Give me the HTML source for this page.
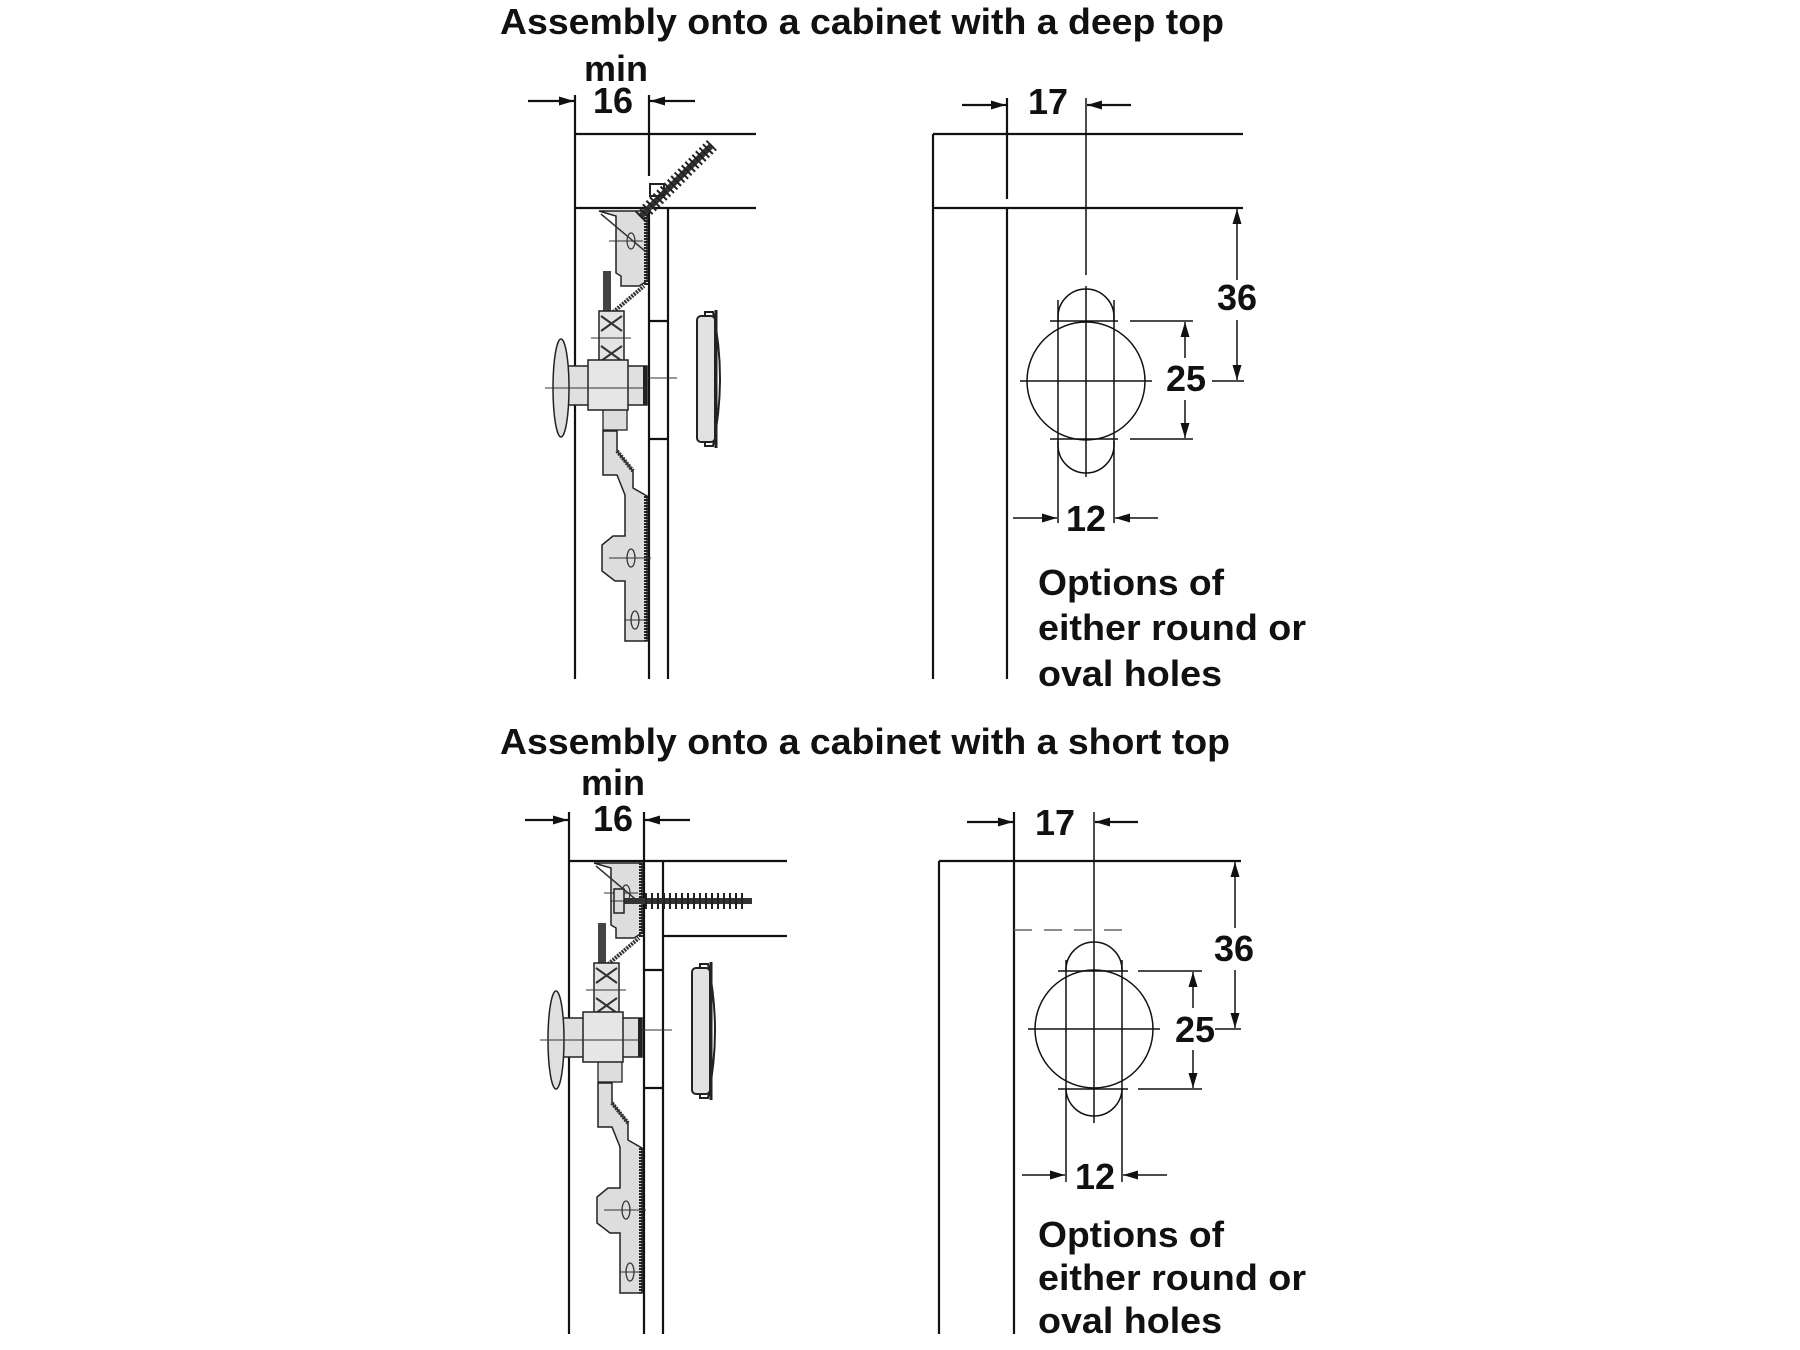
<!DOCTYPE html>
<html><head><meta charset="utf-8"><style>
html,body{margin:0;padding:0;background:#fff;}
svg{display:block;}
text{font-family:"Liberation Sans",Arial,sans-serif;font-weight:bold;fill:#111;}
</style></head><body>
<svg width="1800" height="1350" viewBox="0 0 1800 1350" xmlns="http://www.w3.org/2000/svg">
<defs>
<marker id="a" markerUnits="userSpaceOnUse" markerWidth="16" markerHeight="10" refX="15" refY="4.5" orient="auto">
<path d="M0,0 L15,4.5 L0,9 z" fill="#111"/>
</marker>
<g id="hw">
  <!-- upper bracket -->
  <polygon points="-50,-175 -2,-175 -2,-105 -10,-100 -28,-100 -28,-110 -33,-113 -33,-170" fill="#ddd" stroke="#222" stroke-width="1.5"/>
  <line x1="-48" y1="-172" x2="-4" y2="-135" stroke="#333" stroke-width="1.5"/>
  <line x1="-40" y1="-145" x2="-6" y2="-145" stroke="#333" stroke-width="1"/>
  <ellipse cx="-18" cy="-145" rx="4" ry="8" fill="none" stroke="#333" stroke-width="1.2"/>
  <line x1="-3" y1="-175" x2="-3" y2="-100" stroke="#222" stroke-width="4" stroke-dasharray="2 1"/>
  <!-- diagonal -->
  <line x1="-38" y1="-72" x2="-5" y2="-100" stroke="#333" stroke-width="4" stroke-dasharray="2 1"/>
  <!-- lever -->
  <rect x="-46" y="-115" width="8" height="45" fill="#444"/>
  <!-- blocks -->
  <rect x="-50" y="-75" width="25" height="55" fill="#e4e4e4" stroke="#222" stroke-width="1.5"/>
  <path d="M-48,-70 L-27,-55 M-48,-55 L-27,-70 M-48,-40 L-27,-25 M-48,-25 L-27,-40" stroke="#333" stroke-width="2"/>
  <line x1="-58" y1="-48" x2="-18" y2="-48" stroke="#333" stroke-width="1"/>
  <!-- lower zigzag plate -->
  <polygon points="-46,45 -32,45 -32,65 -16,85 -16,102 -2,110 -2,255 -24,255 -24,195 -34,195 -47,185 -47,159 -36,150 -24,150 -24,109 -32,89 -46,89" fill="#ddd" stroke="#222" stroke-width="1.5"/>
  <line x1="-3" y1="110" x2="-3" y2="255" stroke="#222" stroke-width="4" stroke-dasharray="2 1"/>
  <line x1="-32" y1="65" x2="-16" y2="85" stroke="#333" stroke-width="4" stroke-dasharray="2 1"/>
  <ellipse cx="-18" cy="172" rx="4" ry="9" fill="none" stroke="#333" stroke-width="1.3"/>
  <line x1="-40" y1="172" x2="2" y2="172" stroke="#333" stroke-width="1"/>
  <ellipse cx="-14" cy="234" rx="4" ry="9" fill="none" stroke="#333" stroke-width="1.3"/>
  <line x1="-24" y1="234" x2="-4" y2="234" stroke="#333" stroke-width="1"/>
  <rect x="-46" y="22" width="24" height="22" fill="#ddd" stroke="#222" stroke-width="1.3"/>
  <!-- knob -->
  <rect x="-82" y="-20" width="80" height="39" fill="#e0e0e0" stroke="#222" stroke-width="1.5"/>
  <rect x="-61" y="-26" width="40" height="50" fill="#e6e6e6" stroke="#222" stroke-width="1.5"/>
  <rect x="-6" y="-20" width="4" height="39" fill="#222"/>
  <ellipse cx="-88" cy="2" rx="8" ry="49" fill="#e0e0e0" stroke="#222" stroke-width="1.5"/>
  <line x1="-104" y1="2" x2="-2" y2="2" stroke="#333" stroke-width="1"/>
  <line x1="-2" y1="-8" x2="28" y2="-8" stroke="#333" stroke-width="1"/>
  <!-- cap -->
  <path d="M56,-74 L64,-74 Q78,-8 64,60 L56,60 Z" fill="#fff" stroke="#222" stroke-width="2"/>
  <rect x="48" y="-70" width="18" height="126" rx="4" fill="#e2e2e2" stroke="#222" stroke-width="2"/>
  <line x1="67" y1="-76" x2="67" y2="62" stroke="#222" stroke-width="3"/>
</g>
</defs>

<g stroke="#111" stroke-width="2.2" fill="none">
<!-- ===== TOP LEFT ===== -->
<line x1="575" y1="95" x2="575" y2="679"/>
<line x1="649" y1="95" x2="649" y2="176"/>
<line x1="649" y1="208" x2="649" y2="679"/>
<line x1="668" y1="208" x2="668" y2="679"/>
<line x1="575" y1="134" x2="756" y2="134"/>
<line x1="575" y1="208" x2="756" y2="208"/>
<line x1="649" y1="321" x2="668" y2="321"/>
<line x1="649" y1="439" x2="668" y2="439"/>
<line x1="528" y1="101" x2="574" y2="101" marker-end="url(#a)"/>
<line x1="695" y1="101" x2="650" y2="101" marker-end="url(#a)"/>
</g>
<use href="#hw" transform="translate(649,386)"/>
<!-- top screw -->
<line x1="640" y1="217" x2="712" y2="145" stroke="#333" stroke-width="6"/>
<line x1="640" y1="217" x2="712" y2="145" stroke="#222" stroke-width="14" stroke-dasharray="2 3"/>
<rect x="650" y="184" width="14" height="12" fill="none" stroke="#222" stroke-width="2"/>

<g stroke="#111" stroke-width="2.2" fill="none">
<!-- ===== TOP RIGHT ===== -->
<line x1="933" y1="134" x2="933" y2="679"/>
<line x1="933" y1="134" x2="1243" y2="134"/>
<line x1="933" y1="208" x2="1243" y2="208"/>
<line x1="1007" y1="98" x2="1007" y2="199"/>
<line x1="1007" y1="208" x2="1007" y2="679"/>
<line x1="962" y1="105" x2="1006" y2="105" marker-end="url(#a)"/>
<line x1="1131" y1="105" x2="1087" y2="105" marker-end="url(#a)"/>
</g>
<g stroke="#111" stroke-width="1.5" fill="none">
<line x1="1086" y1="98" x2="1086" y2="275"/>
<line x1="1086" y1="286" x2="1086" y2="477"/>
<line x1="1020" y1="381" x2="1152" y2="381"/>
<circle cx="1086" cy="381" r="59"/>
<path d="M1058,321 L1058,317 A28,28 0 0 1 1114,317 L1114,321"/>
<path d="M1058,441 L1058,445 A28,28 0 0 0 1114,445 L1114,441"/>
<line x1="1058" y1="300" x2="1058" y2="523"/>
<line x1="1114" y1="300" x2="1114" y2="523"/>
<line x1="1050" y1="321" x2="1118" y2="321"/>
<line x1="1050" y1="439" x2="1118" y2="439"/>
<line x1="1130" y1="321" x2="1193" y2="321"/>
<line x1="1130" y1="439" x2="1193" y2="439"/>
<line x1="1212" y1="381" x2="1244" y2="381"/>
<line x1="1185" y1="358" x2="1185" y2="322" marker-end="url(#a)"/>
<line x1="1185" y1="400" x2="1185" y2="438" marker-end="url(#a)"/>
<line x1="1237" y1="280" x2="1237" y2="209" marker-end="url(#a)"/>
<line x1="1237" y1="320" x2="1237" y2="380" marker-end="url(#a)"/>
<line x1="1013" y1="518" x2="1057" y2="518" marker-end="url(#a)"/>
<line x1="1158" y1="518" x2="1115" y2="518" marker-end="url(#a)"/>
</g>

<g stroke="#111" stroke-width="2.2" fill="none">
<!-- ===== BOTTOM LEFT ===== -->
<line x1="569" y1="812" x2="569" y2="1334"/>
<line x1="644" y1="812" x2="644" y2="1334"/>
<line x1="663" y1="861" x2="663" y2="1334"/>
<line x1="569" y1="861" x2="787" y2="861"/>
<line x1="663" y1="936" x2="787" y2="936"/>
<line x1="644" y1="970" x2="663" y2="970"/>
<line x1="644" y1="1088" x2="663" y2="1088"/>
<line x1="525" y1="820" x2="568" y2="820" marker-end="url(#a)"/>
<line x1="690" y1="820" x2="645" y2="820" marker-end="url(#a)"/>
</g>
<use href="#hw" transform="translate(644,1038)"/>
<!-- bottom screw -->
<line x1="622" y1="901" x2="752" y2="901" stroke="#333" stroke-width="6"/>
<line x1="645" y1="901" x2="745" y2="901" stroke="#222" stroke-width="16" stroke-dasharray="2 4"/>
<rect x="614" y="889" width="10" height="24" fill="#ddd" stroke="#222" stroke-width="1.5"/>
<line x1="610" y1="901" x2="640" y2="901" stroke="#333" stroke-width="1"/>

<g stroke="#111" stroke-width="2.2" fill="none">
<!-- ===== BOTTOM RIGHT ===== -->
<line x1="939" y1="861" x2="939" y2="1334"/>
<line x1="939" y1="861" x2="1241" y2="861"/>
<line x1="1014" y1="812" x2="1014" y2="1334"/>
<line x1="967" y1="822" x2="1013" y2="822" marker-end="url(#a)"/>
<line x1="1138" y1="822" x2="1095" y2="822" marker-end="url(#a)"/>
</g>
<g stroke="#111" stroke-width="1.5" fill="none">
<line x1="1094" y1="812" x2="1094" y2="1123"/>
<line x1="1014" y1="930" x2="1127" y2="930" stroke="#666" stroke-dasharray="18 12"/>
<line x1="1028" y1="1029" x2="1160" y2="1029"/>
<circle cx="1094" cy="1029" r="59"/>
<path d="M1066,971 L1066,970 A28,28 0 0 1 1122,970 L1122,971"/>
<path d="M1066,1089 L1066,1088 A28,28 0 0 0 1122,1088 L1122,1089"/>
<line x1="1066" y1="960" x2="1066" y2="1182"/>
<line x1="1122" y1="960" x2="1122" y2="1182"/>
<line x1="1058" y1="971" x2="1128" y2="971"/>
<line x1="1058" y1="1089" x2="1128" y2="1089"/>
<line x1="1138" y1="971" x2="1202" y2="971"/>
<line x1="1138" y1="1089" x2="1202" y2="1089"/>
<line x1="1215" y1="1029" x2="1241" y2="1029"/>
<line x1="1193" y1="1008" x2="1193" y2="972" marker-end="url(#a)"/>
<line x1="1193" y1="1050" x2="1193" y2="1088" marker-end="url(#a)"/>
<line x1="1235" y1="928" x2="1235" y2="862" marker-end="url(#a)"/>
<line x1="1235" y1="970" x2="1235" y2="1028" marker-end="url(#a)"/>
<line x1="1022" y1="1175" x2="1065" y2="1175" marker-end="url(#a)"/>
<line x1="1167" y1="1175" x2="1123" y2="1175" marker-end="url(#a)"/>
</g>

<!-- ===== TEXT ===== -->
<g font-size="36">
<text x="500" y="34" textLength="724" lengthAdjust="spacingAndGlyphs">Assembly onto a cabinet with a deep top</text>
<text x="616" y="81" text-anchor="middle">min</text>
<text x="613" y="113" text-anchor="middle">16</text>
<text x="1048" y="114" text-anchor="middle">17</text>
<text x="1237" y="310" text-anchor="middle">36</text>
<text x="1186" y="391" text-anchor="middle">25</text>
<text x="1086" y="531" text-anchor="middle">12</text>
<text x="1038" y="595" textLength="186" lengthAdjust="spacingAndGlyphs">Options of</text>
<text x="1038" y="640" textLength="268" lengthAdjust="spacingAndGlyphs">either round or</text>
<text x="1038" y="686" textLength="184" lengthAdjust="spacingAndGlyphs">oval holes</text>

<text x="500" y="754" textLength="730" lengthAdjust="spacingAndGlyphs">Assembly onto a cabinet with a short top</text>
<text x="613" y="795" text-anchor="middle">min</text>
<text x="613" y="831" text-anchor="middle">16</text>
<text x="1055" y="835" text-anchor="middle">17</text>
<text x="1234" y="961" text-anchor="middle">36</text>
<text x="1195" y="1042" text-anchor="middle">25</text>
<text x="1095" y="1189" text-anchor="middle">12</text>
<text x="1038" y="1247" textLength="186" lengthAdjust="spacingAndGlyphs">Options of</text>
<text x="1038" y="1290" textLength="268" lengthAdjust="spacingAndGlyphs">either round or</text>
<text x="1038" y="1333" textLength="184" lengthAdjust="spacingAndGlyphs">oval holes</text>
</g>
</svg>
</body></html>
